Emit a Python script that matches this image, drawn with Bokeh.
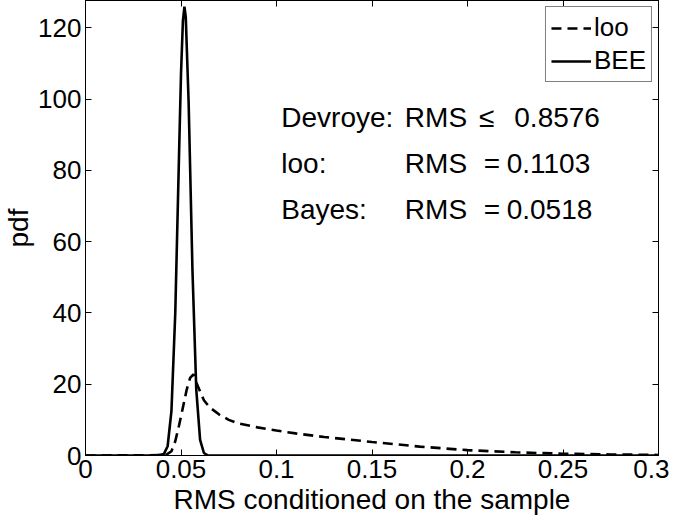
from bokeh.plotting import figure
from bokeh.models import LinearAxis, Range1d, FixedTicker, Label, CustomJSTickFormatter
from bokeh.embed import file_html
from bokeh.resources import INLINE

# ---- data ----
bee_x = [0.0, 0.038, 0.041, 0.043, 0.045, 0.047, 0.049, 0.050, 0.051, 0.0518,
         0.0525, 0.054, 0.056, 0.058, 0.060, 0.062, 0.064, 0.066, 0.30]
bee_y = [0.0, 0.05, 0.4, 2.6, 12.5, 40, 85, 107, 122, 126,
         123, 99, 52, 18.5, 4.4, 0.7, 0.05, 0.0, 0.0]

loo_x = [0.0, 0.042, 0.045, 0.047, 0.049, 0.051, 0.053, 0.0548, 0.0565, 0.058,
         0.060, 0.062, 0.065, 0.070, 0.075, 0.080, 0.090, 0.100, 0.110, 0.125,
         0.150, 0.175, 0.200, 0.225, 0.250, 0.275, 0.300]
loo_y = [0.0, 0.1, 1.2, 4.0, 8.5, 13.5, 18.5, 21.8, 22.8, 20.5,
         18.0, 15.5, 13.5, 11.5, 10.0, 9.0, 7.9, 7.0, 6.2, 5.2,
         3.8, 2.5, 1.5, 0.9, 0.5, 0.3, 0.15]

x_ticks = [0, 0.05, 0.1, 0.15, 0.2, 0.25, 0.3]
x_tick_labels = {0: "0", 0.05: "0.05", 0.1: "0.1", 0.15: "0.15", 0.2: "0.2", 0.25: "0.25", 0.3: "0.3"}
y_ticks = [0, 20, 40, 60, 80, 100, 120]

rows = ["Devroye:", "loo:", "Bayes:"]
row_rel = ["\u2264", "=", "="]
row_vals = ["0.8576", "0.1103", "0.0518"]
row_y = [95, 82, 69]

FONT = "Liberation Sans"

p = figure(width=669, height=519, output_backend="svg", toolbar_location=None,
           x_range=Range1d(0, 0.3), y_range=Range1d(0, 127.7),
           min_border_left=80, min_border_right=11, min_border_top=0, min_border_bottom=64,
           x_axis_label="RMS conditioned on the sample", y_axis_label="pdf")
p.background_fill_color = "white"
p.border_fill_color = "white"
p.outline_line_color = "black"
p.outline_line_width = 1
p.grid.visible = False

p.line(loo_x, loo_y, line_color="black", line_width=2.6, line_dash="10 6", legend_label="loo")
p.line(bee_x, bee_y, line_color="black", line_width=2.6, legend_label="BEE")

for ax in (p.xaxis[0], p.yaxis[0]):
    ax.major_tick_in = 6
    ax.major_tick_out = 0
    ax.minor_tick_in = 0
    ax.minor_tick_out = 0
    ax.axis_line_color = "black"
    ax.major_tick_line_color = "black"
    ax.major_label_text_font = FONT
    ax.major_label_text_font_size = "26px"
    ax.major_label_text_color = "black"
    ax.axis_label_text_font = FONT
    ax.axis_label_text_font_size = "28px"
    ax.axis_label_text_font_style = "normal"
    ax.axis_label_text_color = "black"

p.xaxis.ticker = FixedTicker(ticks=x_ticks)
p.xaxis.major_label_overrides = x_tick_labels
p.xaxis.major_label_standoff = 4
p.xaxis.axis_label_standoff = 3
p.yaxis.ticker = FixedTicker(ticks=y_ticks)
p.yaxis.major_label_standoff = 4
p.yaxis.axis_label_standoff = 1

blank = CustomJSTickFormatter(code="return ''")
top = LinearAxis(ticker=FixedTicker(ticks=x_ticks), formatter=blank,
                 major_tick_in=6, major_tick_out=0, minor_tick_in=0, minor_tick_out=0,
                 major_label_standoff=0, major_label_text_font_size="1px")
right = LinearAxis(ticker=FixedTicker(ticks=y_ticks), formatter=blank,
                   major_tick_in=6, major_tick_out=0, minor_tick_in=0, minor_tick_out=0,
                   major_label_standoff=0, major_label_text_font_size="1px")
p.add_layout(top, "above")
p.add_layout(right, "right")

lg = p.legend[0]
lg.location = "top_right"
lg.margin = 6
lg.padding = 5
lg.spacing = 2
lg.border_line_color = "black"
lg.border_line_width = 1
lg.background_fill_alpha = 1
lg.label_text_font = FONT
lg.label_text_font_size = "26px"
lg.label_text_color = "black"
lg.label_height = 30
lg.glyph_height = 30
lg.glyph_width = 40
lg.label_standoff = 3

for lab, rel, val, yy in zip(rows, row_rel, row_vals, row_y):
    p.add_layout(Label(x=0.1025, y=yy, text=lab, text_font=FONT, text_font_size="28px",
                       text_baseline="alphabetic", text_color="black"))
    p.add_layout(Label(x=0.1672, y=yy, text="RMS", text_font=FONT, text_font_size="28px",
                       text_baseline="alphabetic", text_color="black"))
    p.add_layout(Label(x=0.206 if rel == "\u2264" else 0.2085, y=yy, text=rel, text_font=FONT,
                       text_font_size="28px", text_baseline="alphabetic", text_color="black"))
    p.add_layout(Label(x=0.2245 if rel == "\u2264" else 0.2205, y=yy, text=val, text_font=FONT,
                       text_font_size="28px", text_baseline="alphabetic", text_color="black"))

open("out.html", "w").write(file_html(p, INLINE))
